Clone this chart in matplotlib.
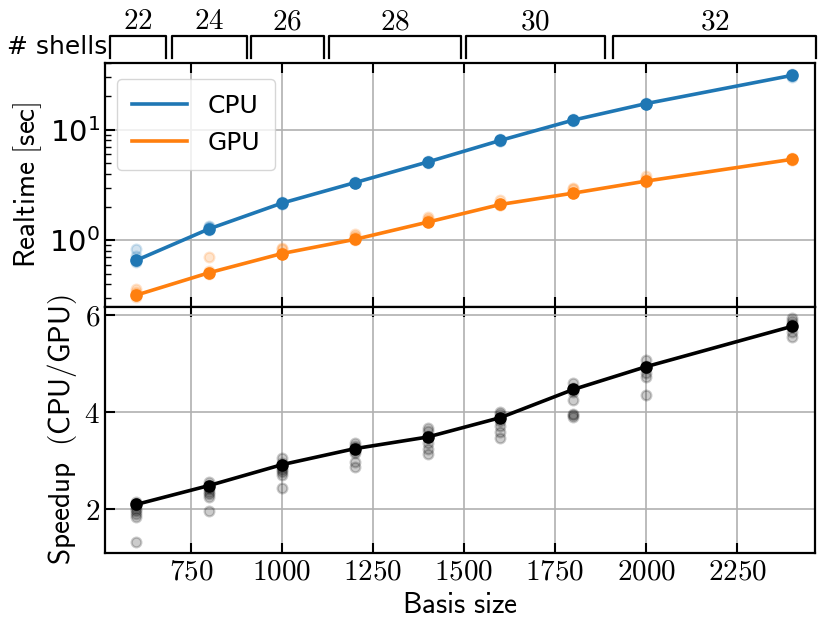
"""
Realtime of CPU vs GPU runs and resulting speedup, against basis size.
"""

import numpy as np
import matplotlib
matplotlib.use("Agg")
import matplotlib.pyplot as plt
import matplotlib.transforms as mtransforms
from matplotlib.ticker import FuncFormatter, LogLocator, NullFormatter

# basis sizes
basis = [600, 800, 1000, 1200, 1400, 1600, 1800, 2000, 2400]

# mean realtime [sec]
cpu_mean = [0.66, 1.27, 2.17, 3.32, 5.10, 8.0, 12.2, 17.2, 30.9]
gpu_mean = [0.32, 0.51, 0.76, 1.02, 1.46, 2.11, 2.67, 3.43, 5.39]
speedup_mean = [2.09, 2.48, 2.91, 3.24, 3.48, 3.88, 4.46, 4.93, 5.76]

# single runs
cpu_runs = [
    [0.83, 0.72, 0.66, 0.65, 0.64, 0.66],
    [1.36, 1.31, 1.28, 1.26, 1.25],
    [2.2, 2.17, 2.15, 2.14],
    [3.4, 3.33, 3.3, 3.28],
    [5.25, 5.1, 5.05, 5.0],
    [8.2, 8.0, 7.95, 7.9],
    [12.4, 12.2, 12.1, 12.0],
    [17.5, 17.2, 17.0, 16.9],
    [32.0, 31.0, 30.5, 30.2],
]
gpu_runs = [
    [0.36, 0.34, 0.33, 0.32, 0.31, 0.32],
    [0.70, 0.53, 0.51, 0.50],
    [0.86, 0.84, 0.77, 0.76, 0.75],
    [1.15, 1.1, 1.05, 1.02, 1.0],
    [1.62, 1.55, 1.48, 1.45],
    [2.3, 2.15, 2.1, 2.08],
    [3.0, 2.9, 2.7, 2.65],
    [3.8, 3.6, 3.45, 3.4],
    [5.55, 5.45, 5.35, 5.3],
]
speedup_runs = [
    [1.32, 1.83, 1.9, 1.95, 2.0, 2.05, 2.1, 2.15],
    [1.95, 2.24, 2.3, 2.35, 2.4, 2.45, 2.5, 2.55],
    [2.43, 2.69, 2.75, 2.8, 2.85, 2.9, 2.95, 3.05],
    [2.86, 2.96, 3.15, 3.2, 3.25, 3.3, 3.35],
    [3.14, 3.24, 3.35, 3.45, 3.5, 3.6, 3.66],
    [3.45, 3.59, 3.7, 3.8, 3.88, 3.95, 4.0],
    [3.9, 3.93, 3.96, 4.24, 4.4, 4.5, 4.6],
    [4.35, 4.72, 4.8, 4.9, 4.95, 5.07],
    [5.55, 5.65, 5.75, 5.8, 5.88, 5.93],
]

# number of shells and the basis size range they cover
shells = [22, 24, 26, 28, 30, 32]
shell_ranges = [(527, 681), (698, 904), (915, 1115), (1129, 1492), (1505, 1887), (1909, 2467)]

plt.rcParams["mathtext.fontset"] = "cm"
plt.rcParams["mathtext.default"] = "rm"
plt.rcParams["font.family"] = "DejaVu Sans"
plt.rcParams["axes.linewidth"] = 1.6


def scatter_runs(ax, runs, color):
    for x, vals in zip(basis, runs):
        ax.plot([x] * len(vals), vals, "o", color=color, alpha=0.2,
                markersize=7, markeredgewidth=1.6, zorder=3)


def style_axis(ax):
    ax.grid(True, color="#b0b0b0", linewidth=1.2, zorder=0)
    ax.set_axisbelow(True)
    ax.tick_params(which="major", direction="in", length=7, width=1.5,
                   top=True, right=False, labelsize=21)
    ax.tick_params(which="minor", direction="in", length=4, width=1.0,
                   top=False, right=False)


fig = plt.figure(figsize=(8.2, 6.34), dpi=100)
ax1 = fig.add_axes([0.128, 0.5158, 0.866, 0.3848])
ax2 = fig.add_axes([0.128, 0.1278, 0.866, 0.388], sharex=ax1)

# realtime panel
scatter_runs(ax1, cpu_runs, "C0")
scatter_runs(ax1, gpu_runs, "C1")
ax1.plot(basis, cpu_mean, "-", color="C0", lw=2.6, label="CPU", zorder=4)
ax1.plot(basis, gpu_mean, "-", color="C1", lw=2.6, label="GPU", zorder=4)
ax1.plot(basis, cpu_mean, "o", color="C0", markersize=8, zorder=5)
ax1.plot(basis, gpu_mean, "o", color="C1", markersize=8, zorder=5)
ax1.set_yscale("log")
ax1.set_ylim(0.25, 40)
ax1.yaxis.set_major_locator(LogLocator(base=10, numticks=10))
ax1.yaxis.set_minor_locator(LogLocator(base=10, subs=np.arange(2, 10), numticks=10))
ax1.yaxis.set_minor_formatter(NullFormatter())
ax1.set_ylabel(r"$\mathsf{Realtime\ [sec]}$", fontsize=21)
style_axis(ax1)
ax1.tick_params(labelbottom=False)
ax1.legend(loc="upper left", fontsize=18, handlelength=2.2,
           borderpad=0.6, labelspacing=0.5, bbox_to_anchor=(0.0, 0.985))

# speedup panel
scatter_runs(ax2, speedup_runs, "black")
ax2.plot(basis, speedup_mean, "-", color="black", lw=2.6, zorder=4)
ax2.plot(basis, speedup_mean, "o", color="black", markersize=8, zorder=5)
ax2.set_yticks([2, 4, 6])
ax2.set_ylabel(r"$\mathsf{Speedup\ \ (CPU/GPU)}$", fontsize=21)
ax2.set_xlabel(r"$\mathsf{Basis\ size}$", fontsize=21)
style_axis(ax2)

ax2.set_xlim(514, 2464)
ax2.set_xticks([750, 1000, 1250, 1500, 1750, 2000, 2250])
ax2.xaxis.set_major_formatter(FuncFormatter(lambda v, p: f"${v:.0f}$"))
ax2.yaxis.set_major_formatter(FuncFormatter(lambda v, p: f"${v:.0f}$"))

# shell brackets above the top panel
trans = mtransforms.blended_transform_factory(ax1.transData, fig.transFigure)
y_bar = 1 - 36 / 634
y_end = 1 - 58 / 634
y_lab = 1 - 21 / 634
for n, (a, b) in zip(shells, shell_ranges):
    ax1.plot([a, a, b, b], [y_end, y_bar, y_bar, y_end], color="black",
             lw=1.6, transform=trans, clip_on=False)
    ax1.text((a + b) / 2, y_lab, f"${n}$", transform=trans, ha="center",
             va="center", fontsize=21)
ax1.text(shell_ranges[0][0] - 5, 1 - 47 / 634, "# shells", transform=trans,
         ha="right", va="center", fontsize=18)

fig.savefig("out.png", dpi=100)
